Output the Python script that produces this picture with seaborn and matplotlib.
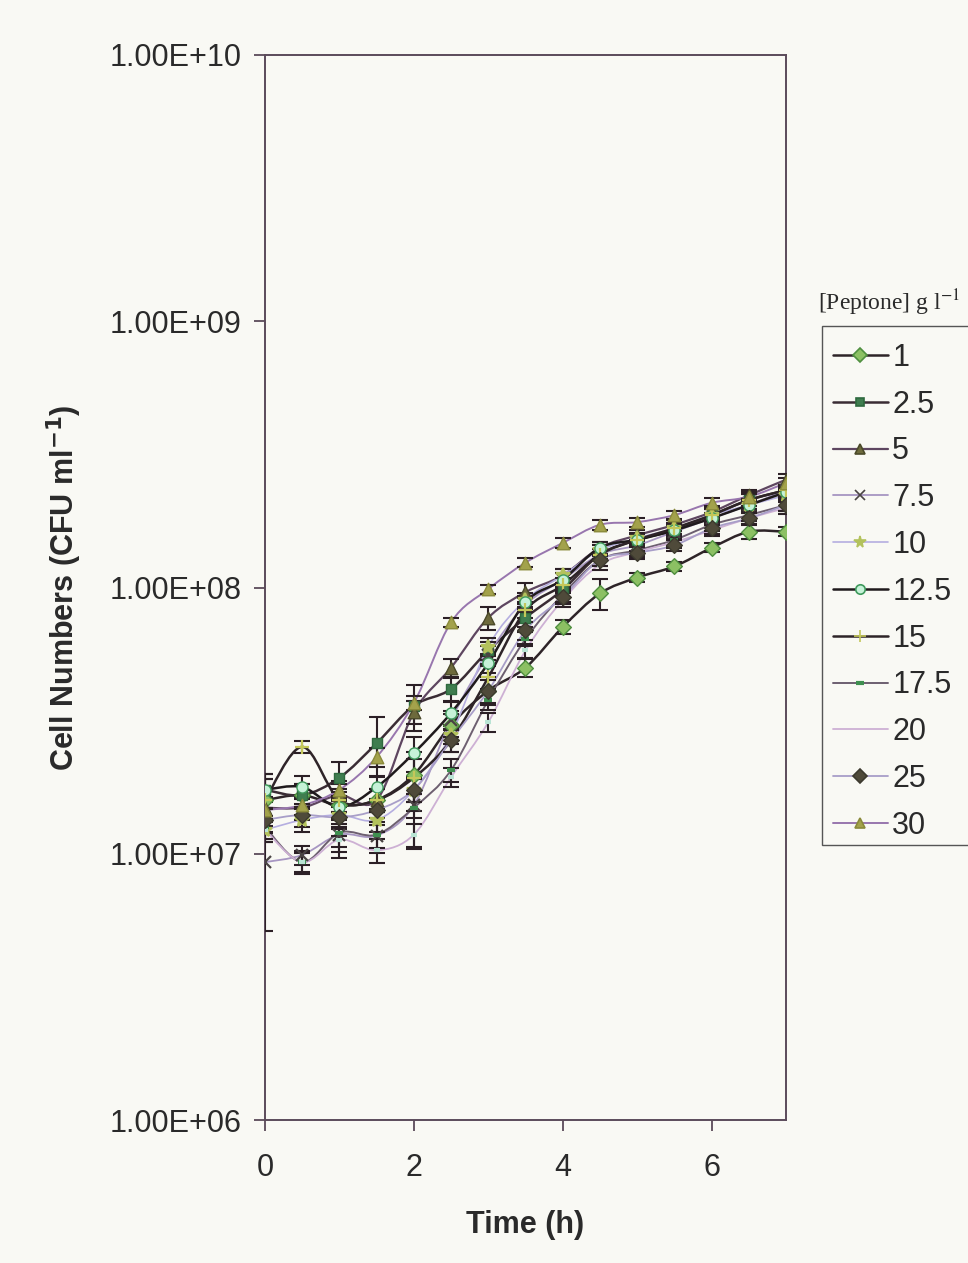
import numpy as np
import pandas as pd
import matplotlib
matplotlib.use("Agg")
import matplotlib.pyplot as plt
from matplotlib.path import Path
from matplotlib.patches import PathPatch, Rectangle
from matplotlib.lines import Line2D
from matplotlib.ticker import FixedLocator, FuncFormatter
import seaborn as sns

# ---------------- data ----------------
time_h = [0, 0.5, 1, 1.5, 2, 2.5, 3, 3.5, 4, 4.5, 5, 5.5, 6, 6.5, 7]
peptone_labels = ["1", "2.5", "5", "7.5", "10", "12.5", "15", "17.5", "20", "25", "30"]

cfu_1 = [1.59e7, 1.66e7, 1.52e7, 1.59e7, 1.98e7, 3.05e7, 4.1e7, 5.0e7, 7.1e7, 9.5e7, 1.09e8, 1.2e8, 1.41e8, 1.62e8, 1.62e8]
cfu_2_5 = [1.74e7, 1.66e7, 1.93e7, 2.6e7, 3.6e7, 4.16e7, 5.8e7, 7.7e7, 9.8e7, 1.33e8, 1.51e8, 1.64e8, 1.87e8, 2.13e8, 2.32e8]
cfu_5 = [1.49e7, 1.49e7, 1.66e7, 1.59e7, 3.4e7, 5.0e7, 7.7e7, 9.6e7, 1.11e8, 1.41e8, 1.57e8, 1.72e8, 1.92e8, 2.22e8, 2.54e8]
cfu_7_5 = [9.3e6, 9.9e6, 1.18e7, 1.17e7, 1.52e7, 3.18e7, 5.6e7, 8.6e7, 1.07e8, 1.33e8, 1.44e8, 1.62e8, 1.82e8, 2.04e8, 2.32e8]
cfu_10 = [1.23e7, 1.34e7, 1.40e7, 1.34e7, 1.74e7, 2.8e7, 6.0e7, 8.97e7, 1.11e8, 1.38e8, 1.53e8, 1.67e8, 1.87e8, 2.04e8, 2.22e8]
cfu_12_5 = [1.74e7, 1.78e7, 1.50e7, 1.78e7, 2.39e7, 3.38e7, 5.2e7, 8.8e7, 1.07e8, 1.41e8, 1.51e8, 1.64e8, 1.82e8, 2.04e8, 2.28e8]
cfu_15 = [1.59e7, 2.52e7, 1.59e7, 1.59e7, 1.93e7, 2.67e7, 4.6e7, 8.2e7, 1.02e8, 1.33e8, 1.51e8, 1.67e8, 1.87e8, 2.13e8, 2.32e8]
cfu_17_5 = [1.26e7, 9.3e6, 1.20e7, 1.18e7, 1.49e7, 2.06e7, 3.78e7, 6.4e7, 9.4e7, 1.27e8, 1.38e8, 1.51e8, 1.72e8, 1.87e8, 2.04e8]
cfu_20 = [1.23e7, 9.3e6, 1.13e7, 1.03e7, 1.18e7, 1.94e7, 3.12e7, 5.8e7, 8.97e7, 1.22e8, 1.36e8, 1.48e8, 1.64e8, 1.82e8, 1.99e8]
cfu_25 = [1.34e7, 1.40e7, 1.37e7, 1.46e7, 1.74e7, 2.67e7, 4.1e7, 6.9e7, 9.2e7, 1.27e8, 1.35e8, 1.44e8, 1.67e8, 1.82e8, 2.04e8]
cfu_30 = [1.46e7, 1.52e7, 1.74e7, 2.31e7, 3.68e7, 7.4e7, 9.86e7, 1.24e8, 1.47e8, 1.72e8, 1.76e8, 1.87e8, 2.08e8, 2.19e8, 2.47e8]

# relative error (fraction of the value)
err_1 = [0.25, 0.10, 0.12, 0.10, 0.15, 0.10, 0.10, 0.08, 0.06, 0.13, 0.04, 0.04, 0.04, 0.06, 0.04]
err_2_5 = [0.15, 0.10, 0.15, 0.25, 0.20, 0.10, 0.08, 0.08, 0.06, 0.05, 0.05, 0.05, 0.05, 0.05, 0.05]
err_5 = [0.10, 0.10, 0.10, 0.10, 0.10, 0.08, 0.10, 0.08, 0.06, 0.05, 0.05, 0.05, 0.05, 0.05, 0.05]
err_7_5 = [0.45, 0.08, 0.10, 0.10, 0.10, 0.08, 0.08, 0.06, 0.06, 0.05, 0.05, 0.05, 0.05, 0.05, 0.05]
err_10 = [0.10, 0.10, 0.10, 0.10, 0.10, 0.08, 0.08, 0.06, 0.06, 0.05, 0.05, 0.05, 0.05, 0.05, 0.05]
err_12_5 = [0.10, 0.10, 0.10, 0.10, 0.15, 0.10, 0.08, 0.06, 0.06, 0.05, 0.05, 0.05, 0.05, 0.05, 0.05]
err_15 = [0.20, 0.05, 0.10, 0.10, 0.25, 0.10, 0.10, 0.06, 0.06, 0.05, 0.05, 0.05, 0.05, 0.05, 0.05]
err_17_5 = [0.10, 0.10, 0.20, 0.15, 0.30, 0.10, 0.08, 0.06, 0.06, 0.05, 0.05, 0.05, 0.05, 0.05, 0.05]
err_20 = [0.10, 0.08, 0.10, 0.10, 0.10, 0.08, 0.08, 0.06, 0.06, 0.05, 0.05, 0.05, 0.05, 0.05, 0.05]
err_25 = [0.10, 0.10, 0.15, 0.10, 0.10, 0.10, 0.12, 0.08, 0.06, 0.05, 0.05, 0.05, 0.05, 0.05, 0.05]
err_30 = [0.10, 0.08, 0.08, 0.08, 0.06, 0.04, 0.04, 0.04, 0.04, 0.04, 0.04, 0.04, 0.04, 0.04, 0.04]

series_values = [cfu_1, cfu_2_5, cfu_5, cfu_7_5, cfu_10, cfu_12_5, cfu_15, cfu_17_5, cfu_20, cfu_25, cfu_30]
series_errors = [err_1, err_2_5, err_5, err_7_5, err_10, err_12_5, err_15, err_17_5, err_20, err_25, err_30]

y_ticks = [1e6, 1e7, 1e8, 1e9, 1e10]
x_ticks = [0, 2, 4, 6]

# ---------------- styles ----------------
# (line colour, marker, marker face, marker edge, marker size, line width)
styles = [
    ("#2e2428", "D", "#8cc063", "#4f8f3f", 8, 1.8),
    ("#3a2c34", "s", "#3f7d4f", "#2f6a3f", 7, 1.8),
    ("#5e4660", "^", "#6d6a3c", "#4b4a2a", 9, 1.6),
    ("#a796c2", "x", "#4a4444", "#4a4444", 8, 1.3),
    ("#b5aee0", "*", "#b3c25c", "#b3c25c", 10, 1.2),
    ("#1f1a1c", "o", "#c6f2d8", "#3f9a5c", 8, 1.8),
    ("#2e2428", "+", "#c4c75a", "#c4c75a", 10, 1.8),
    ("#6d5f70", "_", "#3f8f50", "#3f8f50", 6, 1.4),
    ("#cdb0d4", "_", "#b9e4d4", "#b9e4d4", 5, 1.3),
    ("#a89ec8", "D", "#4f4a3a", "#3c3a2e", 8, 1.3),
    ("#9876ae", "^", "#a3a24b", "#8a8a3a", 9, 1.4),
]

bg = "#f9f9f4"
sns.set_theme(style="white")
plt.rcParams["font.family"] = ["Liberation Sans", "DejaVu Sans"]

fig = plt.figure(figsize=(9.68, 12.63), dpi=100, facecolor=bg)
ax = fig.add_axes([265 / 968, 1 - 1120 / 1263, (786 - 265) / 968, (1120 - 55) / 1263])
ax.set_facecolor(bg)

ax.set_yscale("log")
ax.set_ylim(1e6, 1e10)
ax.set_xlim(0, 7)


def smooth_path(xs, ys):
    lx = np.asarray(xs, float)
    ly = np.log10(np.asarray(ys, float))
    n = len(lx)
    verts = [(lx[0], 10 ** ly[0])]
    codes = [Path.MOVETO]
    for i in range(n - 1):
        i0 = max(i - 1, 0)
        i3 = min(i + 2, n - 1)
        c1x = lx[i] + (lx[i + 1] - lx[i0]) / 6
        c1y = ly[i] + (ly[i + 1] - ly[i0]) / 6
        c2x = lx[i + 1] - (lx[i3] - lx[i]) / 6
        c2y = ly[i + 1] - (ly[i3] - ly[i]) / 6
        verts += [(c1x, 10 ** c1y), (c2x, 10 ** c2y), (lx[i + 1], 10 ** ly[i + 1])]
        codes += [Path.CURVE4] * 3
    return Path(verts, codes)


rows = []
for lab, vals in zip(peptone_labels, series_values):
    for t, v in zip(time_h, vals):
        rows.append({"time": t, "cfu": v, "peptone": lab})
df = pd.DataFrame(rows)

handles = []
for k, (lab, vals, errs) in enumerate(zip(peptone_labels, series_values, series_errors)):
    lc, mk, mf, me, ms, lw = styles[k]
    patch = PathPatch(smooth_path(time_h, vals), fill=False, edgecolor=lc, lw=lw,
                      transform=ax.transData, zorder=2)
    ax.add_patch(patch)
    yerr = np.asarray(vals) * np.asarray(errs)
    ax.errorbar(time_h, vals, yerr=yerr, fmt="none", ecolor="#2c2026", elinewidth=1.5,
                capsize=5.5, capthick=1.5, zorder=3)
    sub = df[df["peptone"] == lab]
    if mk in ("x", "+", "*", "_"):
        mew = 3 if mk == "_" else 1.6
        ax.plot(sub["time"], sub["cfu"], linestyle="none", marker=mk, ms=ms,
                color=me, mew=mew, zorder=4)
    else:
        sns.scatterplot(data=sub, x="time", y="cfu", marker=mk, s=ms ** 2,
                        color=mf, edgecolor=me, linewidth=1.0, ax=ax, zorder=4,
                        legend=False)
    if lab == "20":
        h = Line2D([], [], color=lc, lw=1.3)
    else:
        h = Line2D([], [], color=lc, lw=lw, marker=mk, ms=ms * 0.85,
                   markerfacecolor=mf, markeredgecolor=me,
                   mew=(3 if mk == "_" else 1.2))
    handles.append(h)

spine_c = "#5b4b5a"
for s in ax.spines.values():
    s.set_visible(True)
    s.set_color(spine_c)
    s.set_linewidth(1.4)

ax.yaxis.set_major_locator(FixedLocator(y_ticks))
ax.yaxis.set_minor_locator(FixedLocator([]))
ax.yaxis.set_major_formatter(FuncFormatter(lambda v, p: f"{v:.2E}"))
ax.set_xticks(x_ticks)
ax.tick_params(axis="both", which="major", direction="out", length=8, width=1.3,
               color=spine_c, labelsize=22, labelcolor="#2a2a2a", pad=9,
               left=True, bottom=True)
ax.tick_params(axis="x", pad=16)

ax.set_xlabel("Time (h)", fontsize=22, fontweight="bold", color="#2a2a2a", labelpad=19)
ax.set_ylabel("Cell Numbers (CFU ml$^{\\mathbf{-1}}$)", fontsize=22, fontweight="bold",
              color="#2a2a2a", labelpad=18)

# legend box (runs past the right edge of the picture, as in the reference)
fig.patches.append(Rectangle((822 / 968, 1 - 845 / 1263), 160 / 968, (845 - 326) / 1263,
                             transform=fig.transFigure, facecolor=bg,
                             edgecolor="#555555", lw=1.0, zorder=1))
leg = fig.legend(handles, peptone_labels, loc="upper left",
                 bbox_to_anchor=(822 / 968, 1 - 332 / 1263),
                 frameon=False, fontsize=22, handlelength=1.8,
                 handletextpad=0.15, labelspacing=0.55, borderpad=0.35,
                 borderaxespad=0)
leg.set_zorder(3)
for t in leg.get_texts():
    t.set_color("#2a2a2a")

fig.text(818 / 968, 1 - 303 / 1263, "[Peptone] g l$^{-1}$", fontsize=17,
         family=["Liberation Serif", "DejaVu Serif"], color="#2a2a2a",
         ha="left", va="center", math_fontfamily="stix")

fig.savefig("out.png", dpi=100, facecolor=bg)
